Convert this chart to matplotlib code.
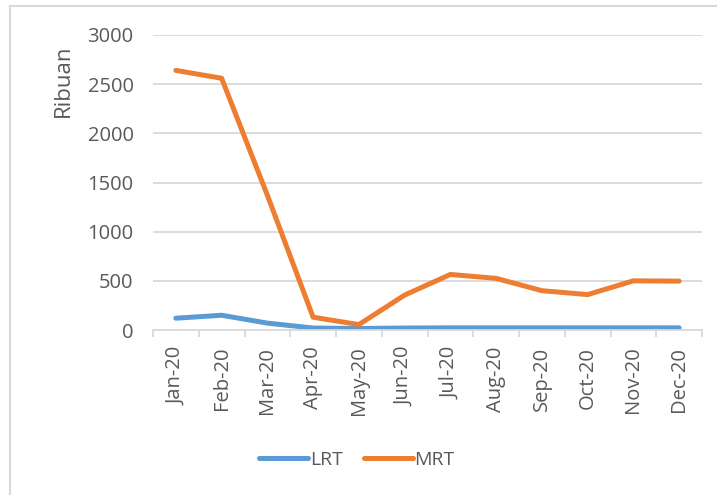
import matplotlib.pyplot as plt
from matplotlib.lines import Line2D

months = ['Jan-20', 'Feb-20', 'Mar-20', 'Apr-20', 'May-20', 'Jun-20',
          'Jul-20', 'Aug-20', 'Sep-20', 'Oct-20', 'Nov-20', 'Dec-20']
lrt = [120, 150, 70, 20, 15, 20, 22, 22, 22, 22, 22, 22]
mrt = [2640, 2560, 1370, 130, 55, 355, 565, 525, 400, 360, 500, 497]
yticks = [0, 500, 1000, 1500, 2000, 2500, 3000]

plt.rcParams['font.family'] = ['Open Sans', 'DejaVu Sans']
text_c = '#595959'
grid_c = '#d9d9d9'

fig = plt.figure(figsize=(7.17, 4.95), dpi=100)
ax = fig.add_axes([153 / 717, 1 - 330 / 495, 549 / 717, 295 / 495])

x = list(range(len(months)))
ax.plot(x, lrt, color='#5B9BD5', lw=3.6, solid_capstyle='round', label='LRT')
ax.plot(x, mrt, color='#ED7D31', lw=3.6, solid_capstyle='round', label='MRT')

ax.set_xlim(-0.5, len(months) - 0.5)
ax.set_ylim(0, 3000)
ax.set_yticks(yticks)
ax.set_yticklabels([str(v) for v in yticks])
ax.set_xticks(x)
ax.set_xticklabels(months, rotation=90)
ax.set_xticks([i - 0.5 for i in range(len(months) + 1)], minor=True)

ax.tick_params(axis='y', length=0, pad=14, labelsize=14.5, labelcolor=text_c)
ax.tick_params(axis='x', which='major', length=0, pad=12, labelsize=14.5,
               labelcolor=text_c)
ax.tick_params(axis='x', which='minor', length=5, width=1.3, color=grid_c)

ax.grid(axis='y', color=grid_c, lw=1.3)
ax.set_axisbelow(True)
for s in ['top', 'right', 'left']:
    ax.spines[s].set_visible(False)
ax.spines['bottom'].set_color(grid_c)
ax.spines['bottom'].set_linewidth(1.3)

fig.text(63 / 717, 1 - 81 / 495, 'Ribuan', rotation=90, ha='center',
         va='center', fontsize=16, color=text_c)

fig.legend(loc='center', bbox_to_anchor=(357 / 717, 1 - 460 / 495), ncol=2,
           frameon=False, fontsize=14, handlelength=2.5, handletextpad=0.1,
           columnspacing=1.1, labelcolor=text_c)

# chart frame (top and left edges visible in the crop)
fig.add_artist(Line2D([10 / 717, 10 / 717], [0, 1 - 6 / 495],
                      transform=fig.transFigure, color=grid_c, lw=1.5))
fig.add_artist(Line2D([10 / 717, 1], [1 - 6 / 495, 1 - 6 / 495],
                      transform=fig.transFigure, color=grid_c, lw=1.5))

fig.savefig('out.png', dpi=100)
